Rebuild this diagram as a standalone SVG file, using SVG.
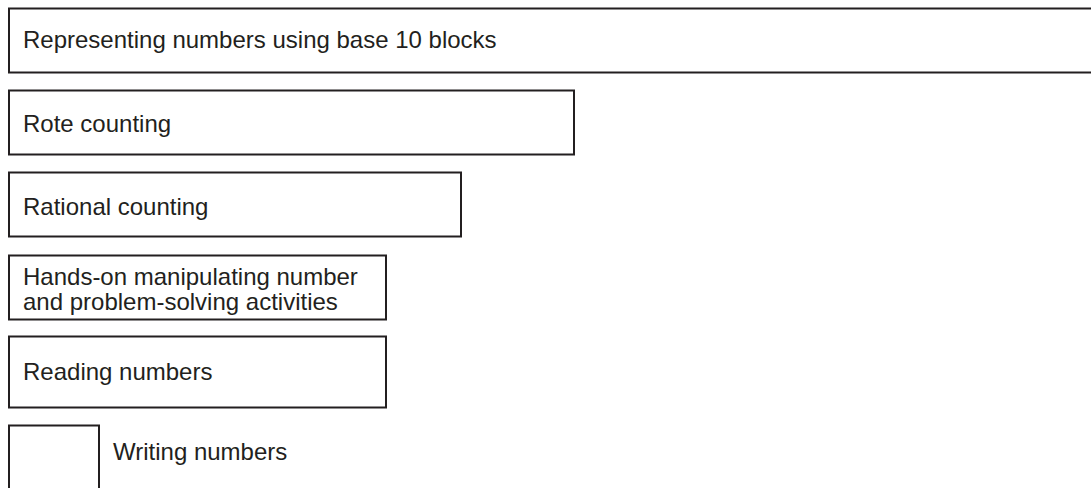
<svg xmlns="http://www.w3.org/2000/svg" width="1091" height="488" viewBox="0 0 1091 488">
<style>
.box{fill:#fff;stroke:#231f20;stroke-width:2}
.t{font-family:"Liberation Sans",Arial,sans-serif;font-size:24px;fill:#231f20}
</style>
<rect width="1091" height="488" fill="#fff"/>
<g id="node-base10"><rect class="box" x="9" y="8.5" width="1100" height="64"/><text class="t" x="23" y="48">Representing numbers using base 10 blocks</text></g>
<g id="node-rote"><rect class="box" x="9" y="90.5" width="565" height="64"/><text class="t" x="23" y="131.5">Rote counting</text></g>
<g id="node-rational"><rect class="box" x="9" y="172.5" width="452" height="64"/><text class="t" x="23" y="215">Rational counting</text></g>
<g id="node-handson"><rect class="box" x="9" y="255.5" width="377" height="64"/><text class="t" x="23" y="285">Hands-on manipulating number</text><text class="t" x="23" y="310">and problem-solving activities</text></g>
<g id="node-reading"><rect class="box" x="9" y="336.5" width="377" height="71"/><text class="t" x="23" y="380">Reading numbers</text></g>
<g id="node-writing"><rect class="box" x="9" y="425.5" width="90" height="80"/><text class="t" x="113" y="460">Writing numbers</text></g>
<g id="connectors"></g>
</svg>
